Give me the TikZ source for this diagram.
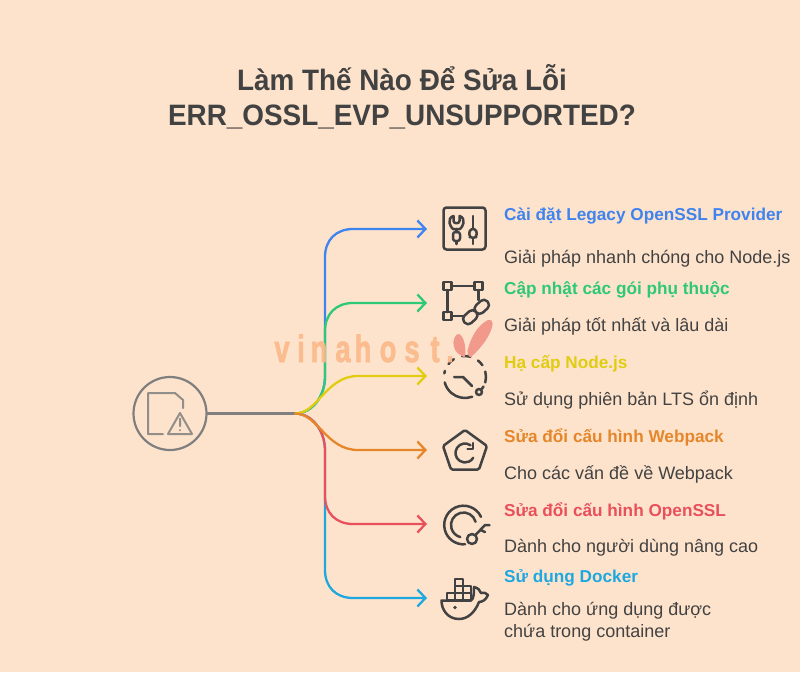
\documentclass[tikz,border=0pt]{standalone}
\usepackage{fontspec}
\setmainfont{Liberation Sans}
\usetikzlibrary{arrows.meta}
\definecolor{nennen}{HTML}{FEE3CC}
\definecolor{chu}{HTML}{424242}
\definecolor{xam}{HTML}{7F7F7F}
\definecolor{xanh}{HTML}{3F83EE}
\definecolor{luc}{HTML}{2DC878}
\definecolor{vang}{HTML}{E0CC10}
\definecolor{cam}{HTML}{E5862A}
\definecolor{do}{HTML}{E8505B}
\definecolor{lam}{HTML}{1EA8E0}
\definecolor{chumo}{HTML}{FBB98A}
\definecolor{hong}{HTML}{F19A8C}
\tikzset{
	nhanh/.style={line width=2.3pt, -{Straight Barb[length=8pt,width=17pt,line width=2.3pt]}},
	bieutuong/.style={line width=2.5pt, draw=chu},
	tieude/.style={anchor=west, inner sep=0pt, font=\fontsize{17.2}{20}\selectfont\bfseries},
	mota/.style={anchor=west, inner sep=0pt, text=chu, font=\fontsize{18}{22}\selectfont, align=left},
	dau/.style={text=chumo, inner sep=0pt, font=\fontsize{38}{38}\selectfont\bfseries\addfontfeature{FakeBold=2}, transform shape, xscale=.72, opacity=.9}
}
\begin{document}
\begin{tikzpicture}[x=1pt, y=-1pt, line join=round, line cap=round]
	\fill[nennen] (0,0) rectangle (800,672);
	\useasboundingbox (0,0) rectangle (800,672);
	\node[align=center, text=chu, font=\fontsize{29.5}{35}\selectfont\bfseries, transform shape, xscale=.945] (title) at (402,97) {Làm Thế Nào Để Sửa Lỗi\\ERR\_OSSL\_EVP\_UNSUPPORTED?};
	\node[circle, draw=xam, line width=2.2pt, minimum size=73pt, inner sep=0pt] (goc) at (170,413.5) {};
	\coordinate (hub) at (295,413.5);
	\foreach \ten/\y in {a/229,b/303,c/376,d/450,e/524,f/598} \coordinate (\ten) at (427,\y);
	\draw[xam, line width=2.3pt] (goc)--(hub);
	% nhanh vuong
	\foreach \ten/\mau/\s/\y in {a/xanh/-1/229,f/lam/1/598,b/luc/-1/303,e/do/1/524}
		\draw[nhanh, \mau] (hub) .. controls (312,413.5) and (325,{413.5+\s*17}) .. (325,{413.5+\s*37})
			-- (325,{\y-\s*28}) .. controls (325,{\y-\s*11}) and (336,\y) .. (353,\y) -- (\ten);
	% nhanh cong chu S
	\draw[nhanh, vang] (hub) .. controls (318,413.5) and (326,376) .. (358,376) -- (c);
	\draw[nhanh, cam] (hub) .. controls (318,413.5) and (326,450) .. (358,450) -- (d);
	% bieu tuong goc
	\draw[xam!85!nennen, line width=2pt] (163,434)--(148,434)--(148,393)--(175,393)--(183,400)--(183,408);
	\draw[xam!85!nennen, line width=2pt] (180,413)--(168,434)--(192,434)--cycle (180,418.5)--(180,426) (180,430)--(180,430.3);
	% co le
	\node[bieutuong, draw, rounded corners=3pt, minimum size=42pt, inner sep=0pt] (ico1) at (464.5,228.5) {};
	\draw[bieutuong] (453.5,216) -- (453.5,221) .. controls (453.5,224) and (459.5,224) .. (459.5,221) -- (459.5,216) .. controls (463,217) and (464,220) .. (463.5,223) .. controls (463,226) and (461,228) .. (460,229) -- (453,229) .. controls (452,228) and (450,226) .. (449.5,223) .. controls (449,220) and (450,217) .. (453.5,216);
	\draw[bieutuong, rounded corners=2.5pt] (453,232) rectangle (460,241);
	\draw[bieutuong] (456.5,229)--(456.5,232) (456.5,241)--(456.5,244);
	\draw[bieutuong] (473,216)--(473,229) (473,238)--(473,244);
	\draw[bieutuong, rounded corners=2pt] (470,229)--(476,229)--(477,236)--(475,238)--(471,238)--(469,236)--cycle;
	% lien ket
	\draw[bieutuong] (443.5,282) rectangle (451.5,290) (474.5,282) rectangle (482.5,290) (443.5,312) rectangle (451.5,320);
	\draw[bieutuong] (451.5,286)--(474.5,286) (447.5,290)--(447.5,312) (478.5,290)--(478.5,300) (451.5,316)--(463,316);
	\draw[bieutuong, rounded corners=4.5pt, rotate around={42:(476,312)}] (460.5,307) rectangle (476,317) (476,307) rectangle (491.5,317);
	% dong ho
	\foreach \p/\q in {70/165,190/197,218/238,262/285,308/326,345/375}
		\draw[bieutuong] (465,377) ++(\p:21) arc (\p:\q:21);
	\draw[bieutuong] (454,377)--(463,377)--(472,386) (481,390)--(483.5,386.5);
	\draw[bieutuong] (479,392) circle (3);
	% ngu giac
	\draw[bieutuong, rounded corners=1.5pt] (465,430)--(487,446)--(479,469.5)--(451,469.5)--(443,446)--cycle;
	\draw[bieutuong] (465,453) ++(-55:9.5) arc (-55:-330:9.5);
	\draw[bieutuong] (473,443)--(473,449)--(467.5,449);
	% chia khoa
	\draw[bieutuong] (463.5,525) ++(-25:19.3) arc (-25:-275:19.3);
	\draw[bieutuong] (463.5,525) ++(-15:12.5) arc (-15:-255:12.5);
	\draw[bieutuong] (472,539) circle (5) (475.5,535)--(485,525)--(489.5,525) (480.5,530)--(485,532);
	% ca voi
	\draw[bieutuong, line width=2pt] (447,593) rectangle (471,600) (455,593)--(455,600) (463,593)--(463,600);
	\draw[bieutuong, line width=2pt] (455,586) rectangle (471,593) (463,586)--(463,593);
	\draw[bieutuong, line width=2pt] (455,578.5) rectangle (463,586);
	\draw[bieutuong] (441.5,600.5)--(471,600.5) .. controls (474,599) and (474,592) .. (474,587) .. controls (478,588) and (480,590) .. (481,593) .. controls (484,592) and (486,593) .. (488,595) .. controls (486,600) and (482,602) .. (479,602) .. controls (475,612) and (468,619) .. (459,619) .. controls (448,619) and (441.5,610) .. (441.5,600.5)--cycle;
	\fill[chu] (455,607.5) circle (1.8);
	% chu
	\foreach \n/\y/\mau/\cd/\md/\ymd in {
		1/215.5/xanh/Cài đặt Legacy OpenSSL Provider/Giải pháp nhanh chóng cho Node.js/259,
		2/289.5/luc/Cập nhật các gói phụ thuộc/Giải pháp tốt nhất và lâu dài/326,
		3/363.5/vang/Hạ cấp Node.js/Sử dụng phiên bản LTS ổn định/400,
		4/437.5/cam/Sửa đổi cấu hình Webpack/Cho các vấn đề về Webpack/474,
		5/511.5/do/Sửa đổi cấu hình OpenSSL/Dành cho người dùng nâng cao/548}{
		\node[tieude, text=\mau] (td\n) at (504,\y) {\cd};
		\node[mota] (mt\n) at (504,\ymd) {\md};
	}
	\node[tieude, text=lam] (td6) at (504,577.5) {Sử dụng Docker};
	\node[mota] (mt6) at (504,622) {Dành cho ứng dụng được\\chứa trong container};
	% dau mo
	\fill[hong, rounded corners=2pt] (467,353) .. controls (470,340) and (476,326) .. (490,319) -- (493,322) .. controls (491,335) and (482,347) .. (470,358) -- cycle;
	\fill[hong, rounded corners=2pt] (465,358) -- (456,352) .. controls (453,345) and (452,340) .. (458,333) -- (461,335) .. controls (464,340) and (466,346) .. (465,358) -- cycle;
	\foreach \ch/\x in {v/282,i/301,n/319,a/343,h/363,o/388,s/412,t/435,./450}
		\node[dau, anchor=base] (w\x) at (\x,362) {\ch};
\end{tikzpicture}
\end{document}
